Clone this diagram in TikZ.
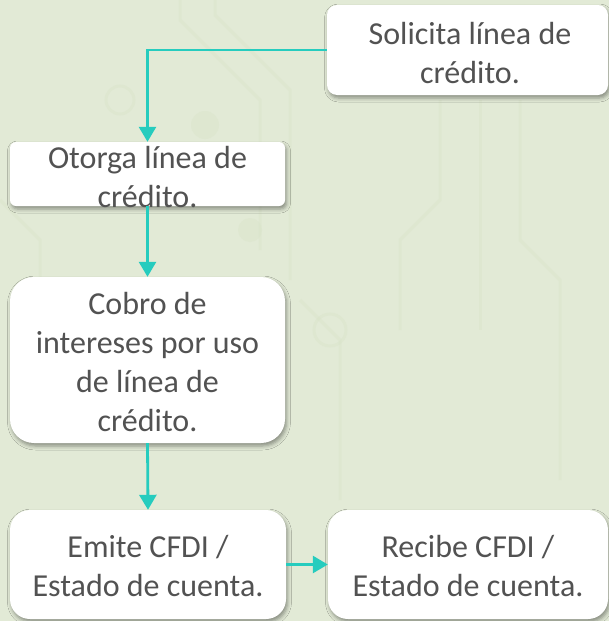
\documentclass[tikz,border=0pt]{standalone}
\usepackage{fontspec}
\setmainfont{Carlito}
\usetikzlibrary{shadows.blur,arrows.meta}
\definecolor{bg}{RGB}{226,234,214}
\definecolor{trace}{RGB}{216,227,200}
\definecolor{teal}{RGB}{38,204,190}
\definecolor{txtgray}{RGB}{82,82,82}
\tikzset{
  box/.style={draw=none, fill=white, inner sep=0pt,
    blur shadow={shadow xshift=1.5pt, shadow yshift=-3pt, shadow blur radius=4pt, shadow opacity=40}},
  txt/.style={text=txtgray, align=center, inner sep=0pt,
    font=\fontsize{32}{39}\selectfont},
  conn/.style={draw=teal, line width=2.8pt,
    -{Triangle[length=15pt,width=17pt]}},
}
\begin{document}
\begin{tikzpicture}[x=1pt,y=-1pt]
\fill[bg] (0,0) rectangle (609,621);
\useasboundingbox (0,0) rectangle (609,621);
% faint circuit traces
\begin{scope}[draw=trace, line width=3pt, opacity=0.4]
\draw (180,0) -- (180,20) -- (260,100) -- (260,250);
\draw (215,0) -- (215,15) -- (290,90) -- (290,280);
\draw (440,100) -- (440,200) -- (400,240) -- (400,330);
\draw (480,100) -- (480,330);
\draw (520,100) -- (520,240) -- (560,280) -- (560,480);
\draw (0,200) -- (40,240) -- (40,277);
\draw (300,300) -- (340,340) -- (340,500);
\draw (120,100) circle (14pt);
\fill[trace] (205,125) circle (14pt);
\fill[trace] (250,230) circle (12pt);
\draw (330,330) circle (16pt);
\fill[trace] (420,60) circle (10pt);
\end{scope}
% boxes
\node[box, minimum width=281pt, minimum height=90pt, rounded corners=10pt] (b1) at (467.5,50) {};
\node[box, minimum width=275pt, minimum height=64pt, rounded corners=6pt] (b2) at (147.5,174) {};
\node[box, minimum width=275pt, minimum height=166pt, rounded corners=24pt] (b3) at (147.5,360) {};
\node[box, minimum width=276pt, minimum height=109pt, rounded corners=20pt] (b4) at (148,564.5) {};
\node[box, minimum width=280pt, minimum height=109pt, rounded corners=20pt] (b5) at (468,564.5) {};
% texts
\node[txt] (t1) at (470,53) {Solicita línea de\\crédito.};
\node[txt] (t2) at (147.5,177) {Otorga línea de\\crédito.};
\node[txt] (t3) at (147.5,362) {Cobro de\\intereses por uso\\de línea de\\crédito.};
\node[txt] (t4) at (148,566) {Emite CFDI /\\Estado de cuenta.};
\node[txt] (t5) at (468,566) {Recibe CFDI /\\Estado de cuenta.};
% connectors
\coordinate (k1) at (b2.north |- b1.west);
\draw[conn] (b1.west) -- (k1) -- (b2.north);
\draw[conn] (b2.south) -- (b3.north);
\draw[conn] (b3.south) -- (b4.north);
\draw[conn] (b4.east) -- (b5.west);
\end{tikzpicture}
\end{document}
